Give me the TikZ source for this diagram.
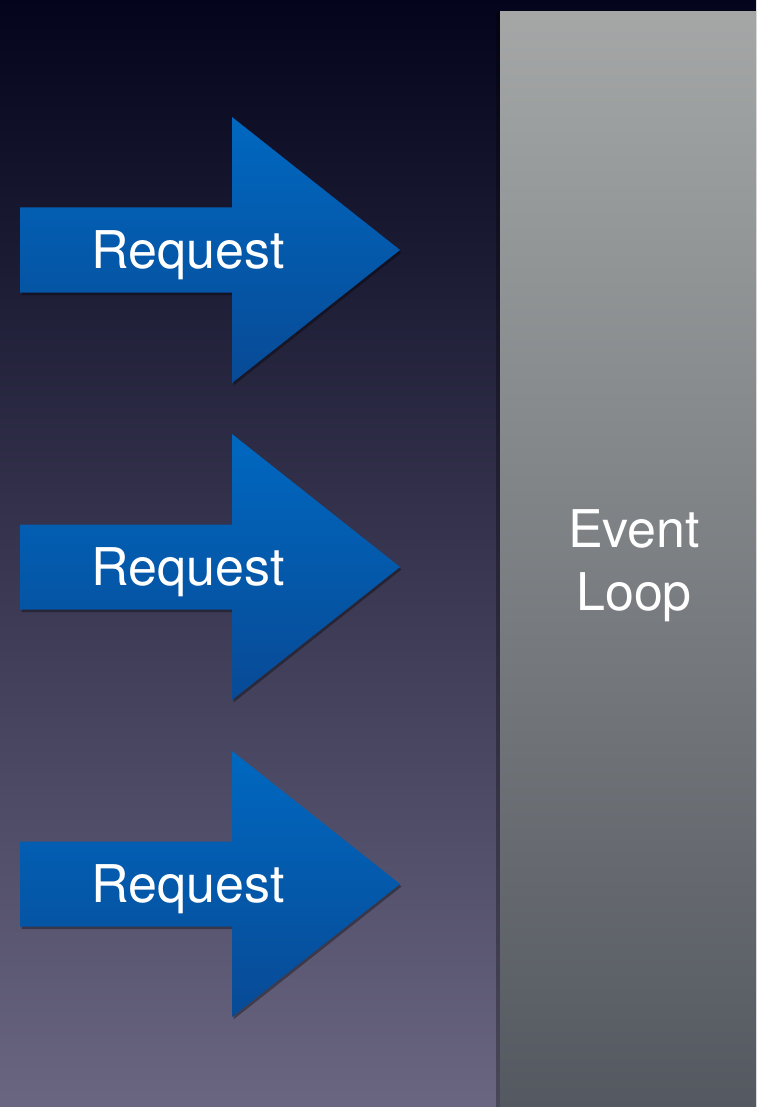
\documentclass[tikz,border=0pt]{standalone}
\usepackage{fontspec}
\setmainfont{TeX Gyre Heros}
\usetikzlibrary{positioning}
\usetikzlibrary{shadows}
\definecolor{bgtop}{RGB}{4,4,28}
\definecolor{bgbot}{RGB}{106,102,130}
\definecolor{arrowtop}{RGB}{0,104,192}
\definecolor{arrowbot}{RGB}{8,74,150}
\definecolor{looptop}{RGB}{164,167,166}
\definecolor{loopbot}{RGB}{84,88,96}
\tikzset{
	reqarrow/.style={
		top color=arrowtop,
		bottom color=arrowbot,
		draw=none,
		drop shadow={fill=black, opacity=0.35, shadow xshift=1.5pt, shadow yshift=-2.5pt}
	},
	reqtext/.style={
		text=white,
		anchor=base,
		font=\fontsize{52}{63}\selectfont
	},
	loopbox/.style={
		rectangle,
		inner sep=0pt,
		minimum width=256pt,
		minimum height=1095pt,
		top color=looptop,
		bottom color=loopbot,
		drop shadow={fill=black, opacity=0.3, shadow xshift=-4pt, shadow yshift=0pt}
	},
	looptext/.style={
		text=white,
		align=center,
		anchor=base,
		font=\fontsize{52}{63}\selectfont
	}
}
\begin{document}
\begin{tikzpicture}[x=1pt,y=-1pt]
	\useasboundingbox (0,0) rectangle (756,1107);
	\fill[top color=bgtop, bottom color=bgbot] (0,0) rectangle (756,1107);

	\node[loopbox] (loop) at (628,559.5) {};
	% base anchor sits on the last line
	\node[looptext] (looplabel) at (634,610) {Event\\Loop};

	\foreach \i/\c in {1/250, 2/567, 3/884} {
		\path[reqarrow] (20,\c-42.5) -- (232,\c-42.5) -- (232,\c-133) -- (400,\c)
			-- (232,\c+133) -- (232,\c+42.5) -- (20,\c+42.5) -- cycle;
		\node[reqtext] (req\i) at (188,\c+18) {Request};
	}
\end{tikzpicture}
\end{document}
